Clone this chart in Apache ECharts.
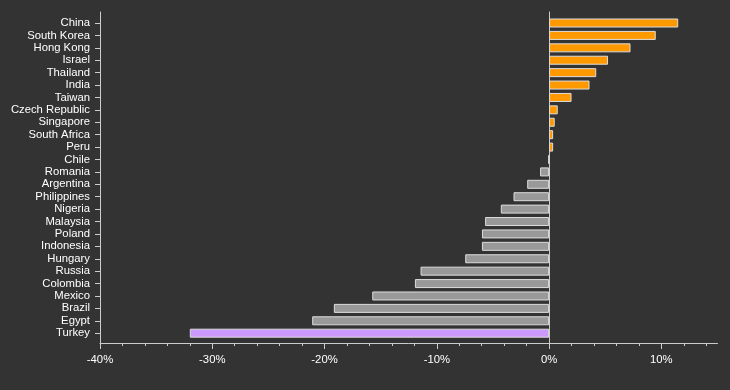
<!DOCTYPE html>
<html><head><meta charset="utf-8">
<script src="https://cdn.jsdelivr.net/npm/echarts@6/dist/echarts.min.js"></script>
<style>html,body{margin:0;padding:0;background:#333}#c{width:730px;height:390px}</style>
</head><body><div id="c"></div>
<script>
const categories = ['China','South Korea','Hong Kong','Israel','Thailand','India','Taiwan','Czech Republic','Singapore','South Africa','Peru','Chile','Romania','Argentina','Philippines','Nigeria','Malaysia','Poland','Indonesia','Hungary','Russia','Colombia','Mexico','Brazil','Egypt','Turkey'];
const values = [11.5, 9.5, 7.25, 5.25, 4.2, 3.6, 2.0, 0.77, 0.5, 0.36, 0.36, -0.05, -0.8, -1.95, -3.17, -4.3, -5.7, -5.98, -5.98, -7.47, -11.45, -11.95, -15.75, -19.17, -21.1, -32.0];
const highlight = 'Turkey';
const xMajorTicks = [-40, -30, -20, -10, 0, 10];
const xMinorTicks = [-38, -36, -34, -32, -28, -26, -24, -22, -18, -16, -14, -12, -8, -6, -4, -2, 2, 4, 6, 8, 12, 14];
const xMin = -40, xMax = 15;

const FONT = 'Liberation Sans';
const AXIS_COLOR = '#cccccc';
const TEXT_COLOR = '#ffffff';

const barData = values.map((v, i) => ({
  value: v,
  itemStyle: { color: categories[i] === highlight ? '#cc99ff' : (v >= 0 ? '#ff9900' : '#999999') }
}));

const chart = echarts.init(document.getElementById('c'), null, { renderer: 'canvas' });
chart.setOption({
  backgroundColor: '#333333',
  animation: false,
  grid: [
    { left: 100, right: 12.5, top: 16.8, bottom: 50.6 },
    { left: 100, right: 12.5, top: 12, bottom: 47 }
  ],
  xAxis: [
    { gridIndex: 0, type: 'value', min: xMin, max: xMax, show: false, axisLine: { onZero: false } },
    {
      gridIndex: 1, type: 'value', min: xMin, max: xMax, interval: 10, position: 'bottom',
      axisLine: { show: true, onZero: false, lineStyle: { color: AXIS_COLOR, width: 1 } },
      axisTick: { show: true, customValues: xMajorTicks, length: 6, lineStyle: { color: AXIS_COLOR } },
      axisLabel: { customValues: xMajorTicks, formatter: '{value}%', color: TEXT_COLOR, fontSize: 11.3, fontFamily: FONT, margin: 11 },
      splitLine: { show: false }
    },
    {
      gridIndex: 1, type: 'value', min: xMin, max: xMax, interval: 10, position: 'bottom',
      axisLine: { show: false, onZero: false },
      axisTick: { show: true, customValues: xMinorTicks, length: 3, lineStyle: { color: AXIS_COLOR } },
      axisLabel: { show: false },
      splitLine: { show: false }
    }
  ],
  yAxis: [
    {
      gridIndex: 0, type: 'category', data: categories, inverse: true, position: 'left',
      axisLine: { show: false, onZero: false },
      axisTick: { show: true, alignWithLabel: true, interval: 0, length: 5, lineStyle: { color: AXIS_COLOR } },
      axisLabel: { interval: 0, color: TEXT_COLOR, fontSize: 11.3, fontFamily: FONT, margin: 10 },
      splitLine: { show: false }
    },
    {
      gridIndex: 1, type: 'value', min: 0, max: 1, position: 'left',
      axisLine: { show: true, onZero: false, lineStyle: { color: AXIS_COLOR, width: 1 } },
      axisTick: { show: false }, axisLabel: { show: false }, splitLine: { show: false }
    },
    {
      gridIndex: 1, type: 'value', min: 0, max: 1, position: 'left',
      axisLine: { show: true, onZero: true, lineStyle: { color: AXIS_COLOR, width: 1 } },
      axisTick: { show: false }, axisLabel: { show: false }, splitLine: { show: false }
    }
  ],
  series: [
    {
      type: 'bar', xAxisIndex: 0, yAxisIndex: 0, data: barData, barWidth: 9, silent: true,
      itemStyle: { borderColor: '#dddddd', borderWidth: 1 }
    }
  ]
});
</script>
</body></html>
